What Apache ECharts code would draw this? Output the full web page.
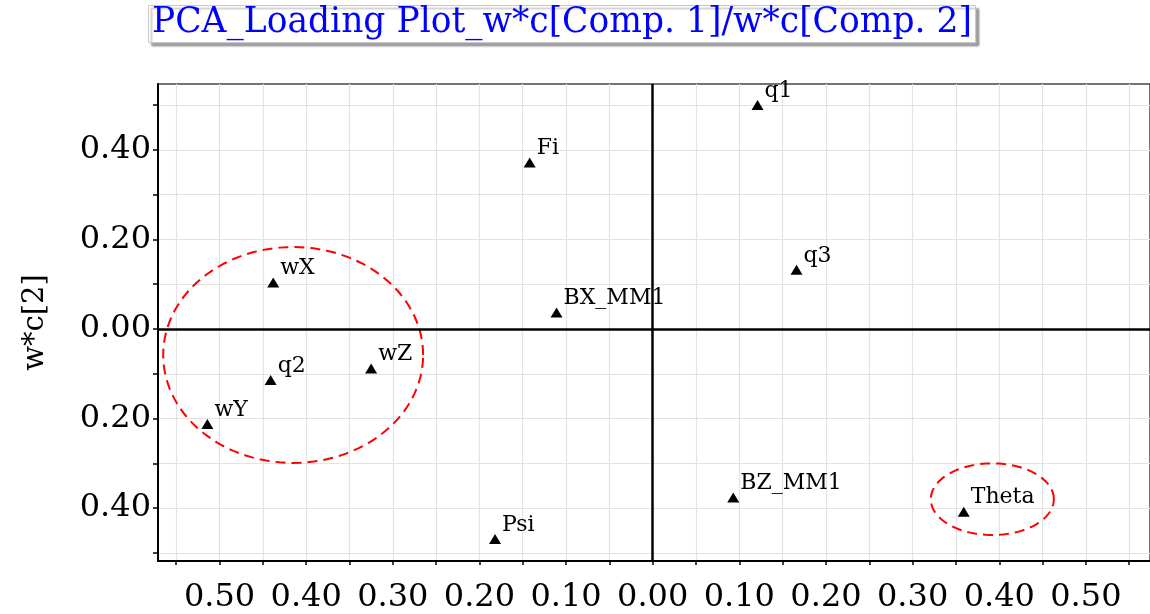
<!DOCTYPE html>
<html>
<head>
<meta charset="utf-8">
<script src="https://cdn.jsdelivr.net/npm/echarts@6/dist/echarts.min.js"></script>
<style>html,body{margin:0;padding:0;background:#fff}#c{width:1150px;height:614px}</style>
</head>
<body>
<div id="c"></div>
<script>
// ---- data ----
var names = ['q1','Fi','q3','BX_MM1','wX','q2','wZ','wY','Psi','BZ_MM1','Theta'];
var comp1 = [0.121,-0.142,0.166,-0.111,-0.438,-0.441,-0.325,-0.514,-0.182,0.093,0.359];
var comp2 = [0.500,0.372,0.132,0.037,0.104,-0.114,-0.088,-0.212,-0.469,-0.376,-0.408];
// highlight ellipses: [centerX, centerY, radiusX, radiusY]
var ellipseA = [-0.415,-0.058,0.150,0.241];
var ellipseB = [0.392,-0.380,0.071,0.080];
var xTickValues = [-0.55,-0.5,-0.45,-0.4,-0.35,-0.3,-0.25,-0.2,-0.15,-0.1,-0.05,0,0.05,0.1,0.15,0.2,0.25,0.3,0.35,0.4,0.45,0.5,0.55];
var xLabelValues = [-0.5,-0.4,-0.3,-0.2,-0.1,0,0.1,0.2,0.3,0.4,0.5];
var xLabelTexts = ['0.50','0.40','0.30','0.20','0.10','0.00','0.10','0.20','0.30','0.40','0.50'];
var yTickValues = [-0.5,-0.4,-0.3,-0.2,-0.1,0,0.1,0.2,0.3,0.4,0.5];
var yLabelValues = [-0.4,-0.2,0,0.2,0.4];
var yLabelTexts = ['0.40','0.20','0.00','0.20','0.40'];
var titleText = 'PCA_Loading Plot_w*c[Comp. 1]/w*c[Comp. 2]';
var yName = 'w*c[2]';

function lookup(vals, texts, v){
  for (var i=0;i<vals.length;i++){ if (Math.abs(vals[i]-v)<1e-6) return texts[i]; }
  return '';
}
var points = names.map(function(n,i){ return {name:n, value:[comp1[i], comp2[i]]}; });
var serif = 'DejaVu Serif';

var chart = echarts.init(document.getElementById('c'));
chart.setOption({
  animation:false,
  backgroundColor:'#fff',
  title:{
    text:titleText, left:148, top:5,
    padding:[1,4,2,4],
    borderColor:'#c8c8c8', borderWidth:1,
    shadowColor:'rgba(0,0,0,0.35)', shadowOffsetX:3, shadowOffsetY:3, shadowBlur:2,
    backgroundColor:'#fff',
    textStyle:{color:'#0000ff', fontFamily:serif, fontSize:34.5, fontWeight:'normal'}
  },
  grid:{left:158, right:-4, top:84, bottom:53, show:true, borderColor:'#444', borderWidth:1.5, backgroundColor:'transparent'},
  xAxis:{
    type:'value', min:-0.571, max:0.574,
    axisLine:{show:true, onZero:false, lineStyle:{color:'#000', width:2}},
    axisTick:{show:true, customValues:xTickValues, length:4, lineStyle:{color:'#000', width:1.5}},
    axisLabel:{show:true, customValues:xLabelValues, margin:21, color:'#000', fontFamily:serif, fontSize:32,
      formatter:function(v){ return lookup(xLabelValues, xLabelTexts, v); }},
    splitLine:{show:true, lineStyle:{color:'#e3e3e3', width:1.2}}
  },
  yAxis:{
    type:'value', min:-0.518, max:0.547,
    name:yName, nameLocation:'middle', nameRotate:90, nameGap:108,
    nameTextStyle:{color:'#000', fontFamily:serif, fontSize:29},
    axisLine:{show:true, onZero:false, lineStyle:{color:'#000', width:2}},
    axisTick:{show:true, customValues:yTickValues, length:5, lineStyle:{color:'#000', width:1.5}},
    axisLabel:{show:true, customValues:yLabelValues, margin:7, color:'#000', fontFamily:serif, fontSize:32,
      formatter:function(v){ return lookup(yLabelValues, yLabelTexts, v); }},
    splitLine:{show:true, lineStyle:{color:'#e3e3e3', width:1.2}}
  },
  series:[
    {
      type:'scatter', data:points, symbol:'triangle', symbolSize:[12,10],
      itemStyle:{color:'#000', opacity:1},
      label:{show:true, position:'right', distance:1, offset:[0,-14], formatter:'{b}',
        color:'#000', fontFamily:serif, fontSize:22},
      markLine:{
        silent:true, symbol:['none','none'], label:{show:false},
        lineStyle:{color:'#000', width:2.5, type:'solid'},
        data:[{xAxis:0},{yAxis:0}]
      },
      z:5
    },
    {
      type:'custom', data:[ellipseA, ellipseB], clip:false, silent:true, z:4,
      renderItem:function(params, api){
        var cx=api.value(0), cy=api.value(1), rx=api.value(2), ry=api.value(3);
        var pts=[];
        for (var k=0;k<=120;k++){
          var t=k/120*Math.PI*2;
          pts.push(api.coord([cx+rx*Math.cos(t), cy+ry*Math.sin(t)]));
        }
        return {type:'polyline', shape:{points:pts},
          style:{fill:null, stroke:'#ff0000', lineWidth:2, lineDash:[10,6]}};
      }
    }
  ]
});
</script>
</body>
</html>
